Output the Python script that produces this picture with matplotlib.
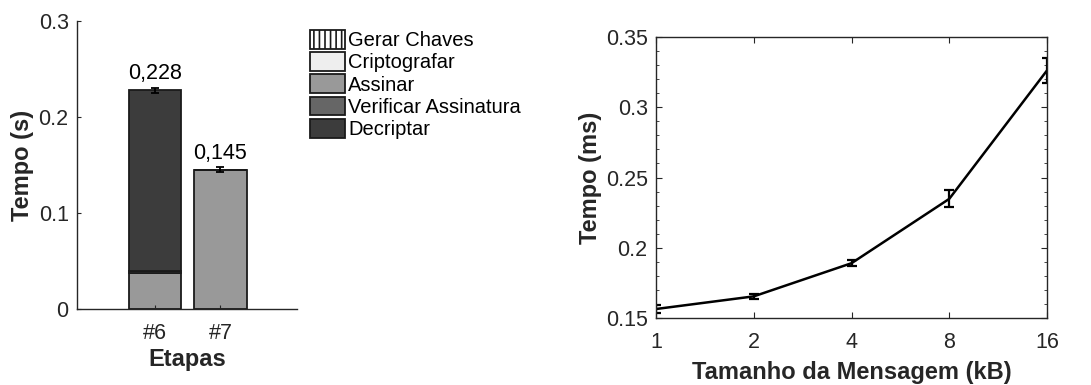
import matplotlib
matplotlib.use("Agg")
import matplotlib.pyplot as plt
import numpy as np

plt.rcParams['font.family'] = ['Liberation Sans', 'DejaVu Sans']
plt.rcParams['hatch.linewidth'] = 1.2

# ---- data: left stacked bar chart ----
etapas = ['#6', '#7']
series_names = ['Gerar Chaves', 'Criptografar', 'Assinar', 'Verificar Assinatura', 'Decriptar']
gerar_chaves = [0.0, 0.0]
criptografar = [0.0, 0.0]
assinar = [0.038, 0.145]
verificar = [0.002, 0.0]
decriptar = [0.188, 0.0]
totais = [0.228, 0.145]
totais_err = [0.0025, 0.0025]
totais_labels = ['0,228', '0,145']
bar_yticks = [0, 0.1, 0.2, 0.3]
bar_yticklabels = ['0', '0.1', '0.2', '0.3']

# ---- data: right line chart ----
tamanhos = [1, 2, 4, 8, 16]
tempo_ms = [0.1564, 0.1654, 0.189, 0.2348, 0.3262]
tempo_err = [0.003, 0.002, 0.002, 0.006, 0.009]
line_yticks = [0.15, 0.2, 0.25, 0.3, 0.35]
line_yticklabels = ['0.15', '0.2', '0.25', '0.3', '0.35']

TXT = '#262626'
TICK_FS = 15.5
LAB_FS = 17
fig = plt.figure(figsize=(10.91, 3.85), dpi=100)

# ---------------- left axes ----------------
ax1 = fig.add_axes([77/1091, 1-309/385, 220/1091, 288/385])
x = np.arange(1, len(etapas)+1)
colors = ['white', '#eeeeee', '#999999', '#666666', '#3c3c3c']
hatches = ['|||', None, None, None, None]
stack = [gerar_chaves, criptografar, assinar, verificar, decriptar]
bottom = np.zeros(len(etapas))
handles = []
for vals, c, h, name in zip(stack, colors, hatches, series_names):
    b = ax1.bar(x, vals, 0.8, bottom=bottom, color=c, edgecolor='#1a1a1a',
                linewidth=1.3, hatch=h, label=name)
    handles.append(b)
    bottom = bottom + np.array(vals)
ax1.errorbar(x, totais, yerr=totais_err, fmt='none', ecolor='black',
             elinewidth=1.3, capsize=3, capthick=1.3)
for xi, t, lab in zip(x, totais, totais_labels):
    ax1.text(xi, t + 0.006, lab, ha='center', va='bottom', fontsize=TICK_FS, color='black')
ax1.set_xlim(-0.19, 3.17)
ax1.set_ylim(0, 0.3)
ax1.set_xticks(x)
ax1.set_xticklabels(etapas)
ax1.set_yticks(bar_yticks)
ax1.set_yticklabels(bar_yticklabels)
ax1.spines['top'].set_visible(False)
ax1.spines['right'].set_visible(False)
for s in ['left', 'bottom']:
    ax1.spines[s].set_color(TXT)
    ax1.spines[s].set_linewidth(1.0)
ax1.tick_params(direction='in', length=3, colors=TXT, labelsize=TICK_FS)
ax1.tick_params(axis='x', pad=10)
ax1.tick_params(axis='y', pad=6)
ax1.set_xlabel('Etapas', fontsize=LAB_FS, fontweight='bold', color=TXT, labelpad=3)
ax1.set_ylabel('Tempo (s)', fontsize=LAB_FS, fontweight='bold', color=TXT, labelpad=3)

leg = ax1.legend(handles=handles, labels=series_names, loc='upper left',
                 bbox_to_anchor=(310/1091, 1-30/385), bbox_transform=fig.transFigure,
                 frameon=False, fontsize=14.5, handlelength=1.75, handleheight=1.05,
                 handletextpad=0.15, labelspacing=0.1, borderaxespad=0, borderpad=0)

# ---------------- right axes ----------------
ax2 = fig.add_axes([656/1091, 1-318/385, 391/1091, 281/385])
ax2.errorbar(tamanhos, tempo_ms, yerr=tempo_err, color='black', linewidth=1.8,
             elinewidth=1.6, capsize=3.5, capthick=1.6)
ax2.set_xscale('log', base=2)
ax2.set_xlim(1, 16)
ax2.set_ylim(0.15, 0.35)
ax2.set_xticks(tamanhos)
ax2.set_xticklabels([str(t) for t in tamanhos])
ax2.xaxis.set_minor_locator(matplotlib.ticker.NullLocator())
ax2.set_yticks(line_yticks)
ax2.set_yticklabels(line_yticklabels)
ax2.yaxis.set_minor_locator(matplotlib.ticker.MultipleLocator(0.01))
for s in ax2.spines.values():
    s.set_color(TXT)
    s.set_linewidth(1.0)
ax2.tick_params(which='both', direction='in', top=True, right=True, colors=TXT,
                labelsize=TICK_FS)
ax2.tick_params(axis='x', pad=10)
ax2.tick_params(axis='y', pad=6)
ax2.tick_params(which='major', length=4)
ax2.tick_params(which='minor', length=2)
ax2.set_xlabel('Tamanho da Mensagem (kB)', fontsize=LAB_FS, fontweight='bold', color=TXT, labelpad=6)
ax2.set_ylabel('Tempo (ms)', fontsize=LAB_FS, fontweight='bold', color=TXT, labelpad=3)

fig.savefig('out.png', dpi=100)
